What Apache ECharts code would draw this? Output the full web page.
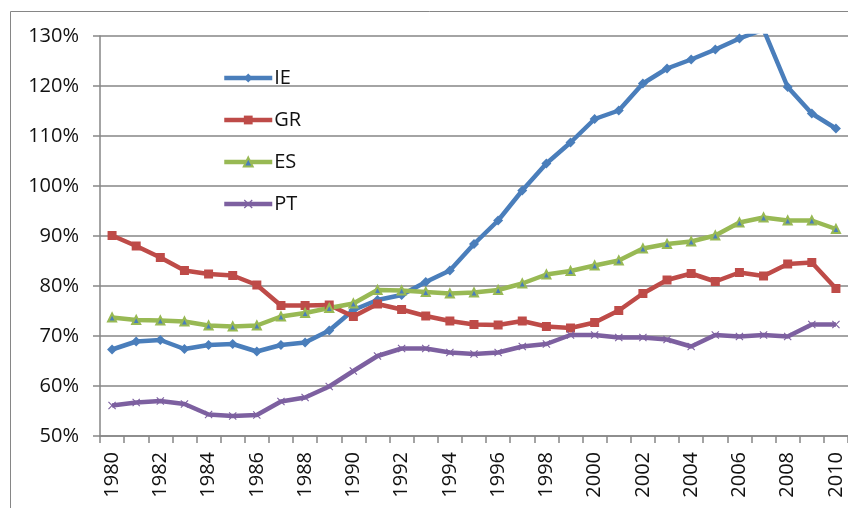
<!DOCTYPE html>
<html>
<head>
<meta charset="utf-8">
<script src="https://cdn.jsdelivr.net/npm/echarts@6/dist/echarts.min.js"></script>
<style>
  html, body { margin: 0; padding: 0; background: #fff; }
  #chart { width: 848px; height: 508px; }
</style>
</head>
<body>
<div id="chart"></div>
<script>
// years on the x axis
var years = ['1980','1981','1982','1983','1984','1985','1986','1987','1988','1989',
             '1990','1991','1992','1993','1994','1995','1996','1997','1998','1999',
             '2000','2001','2002','2003','2004','2005','2006','2007','2008','2009','2010'];

// values in %
var ie = [67.3, 68.9, 69.2, 67.4, 68.2, 68.4, 66.9, 68.2, 68.7, 71.1,
          75.2, 77.2, 78.2, 80.8, 83.1, 88.4, 93.1, 99.1, 104.5, 108.7,
          113.4, 115.1, 120.5, 123.5, 125.3, 127.3, 129.5, 131.3, 119.8, 114.5, 111.5];
var gr = [90.1, 88.0, 85.7, 83.1, 82.4, 82.1, 80.2, 76.1, 76.1, 76.2,
          73.9, 76.4, 75.3, 74.0, 73.0, 72.3, 72.2, 73.0, 71.9, 71.6,
          72.7, 75.1, 78.5, 81.2, 82.5, 80.9, 82.7, 82.0, 84.4, 84.7, 79.5];
var es = [73.7, 73.2, 73.1, 72.9, 72.1, 71.9, 72.1, 73.9, 74.6, 75.6,
          76.5, 79.2, 79.1, 78.8, 78.5, 78.7, 79.2, 80.5, 82.3, 83.0,
          84.1, 85.1, 87.5, 88.4, 88.9, 90.1, 92.7, 93.7, 93.1, 93.1, 91.4];
var pt = [56.1, 56.7, 57.0, 56.4, 54.3, 54.0, 54.2, 56.9, 57.7, 59.9,
          63.0, 66.0, 67.5, 67.5, 66.7, 66.4, 66.7, 67.9, 68.4, 70.2,
          70.2, 69.7, 69.7, 69.3, 67.9, 70.2, 69.9, 70.2, 69.9, 72.3, 72.3];

var FONT = '"Open Sans", sans-serif';
var GRAY = '#868686';
// little x mark for PT
var crossPath = 'path://M0,1L1,0L5,4L9,0L10,1L6,5L10,9L9,10L5,6L1,10L0,9L4,5Z';

function mkSeries(name, data, color, symbol, size, fill){
    return {
        name: name,
        type: 'line',
        data: data,
        symbol: symbol,
        symbolSize: size,
        clip: true,
        lineStyle: { color: color, width: 4.5 },
        itemStyle: { color: fill || color, borderColor: color, borderWidth: fill ? 2 : 0 }
    };
}

var chart = echarts.init(document.getElementById('chart'));
chart.setOption({
    animation: false,
    textStyle: { fontFamily: FONT },
    graphic: [{
        type: 'rect',
        shape: { x: 10.5, y: 11.5, width: 900, height: 600 },
        style: { fill: 'none', stroke: GRAY, lineWidth: 1 },
        silent: true
    }],
    grid: { left: 100, top: 36, width: 750, bottom: 72 },
    legend: {
        orient: 'vertical',
        left: 217,
        top: 63,
        itemWidth: 48,
        itemHeight: 11,
        itemGap: 22,
        data: ['IE', 'GR', 'ES', 'PT'],
        lineStyle: { width: 4.5 },
        textStyle: { fontFamily: FONT, fontSize: 20, lineHeight: 20, color: '#111', padding: [0, 0, 0, -3] }
    },
    xAxis: {
        type: 'category',
        data: years,
        boundaryGap: true,
        axisLine: { lineStyle: { color: GRAY, width: 1.5 } },
        axisTick: { show: true, interval: 0, length: 7, lineStyle: { color: GRAY, width: 1.5 } },
        axisLabel: { interval: 1, rotate: 90, margin: 16, fontSize: 20, color: '#111', fontFamily: FONT },
        splitLine: { show: false }
    },
    yAxis: {
        type: 'value',
        min: 50,
        max: 130,
        interval: 10,
        axisLine: { show: true, lineStyle: { color: GRAY, width: 1.5 } },
        axisTick: { show: true, length: 7, lineStyle: { color: GRAY, width: 1.5 } },
        axisLabel: { formatter: '{value}%', margin: 21, fontSize: 20, color: '#111', fontFamily: FONT },
        splitLine: { lineStyle: { color: GRAY, width: 1.5 } }
    },
    series: [
        mkSeries('IE', ie, '#4A7EBB', 'diamond', 10),
        mkSeries('GR', gr, '#BE4B48', 'rect', 9),
        mkSeries('ES', es, '#98B954', 'triangle', 8, '#4A7EBB'),
        mkSeries('PT', pt, '#7D60A0', crossPath, 8)
    ]
});
</script>
</body>
</html>
